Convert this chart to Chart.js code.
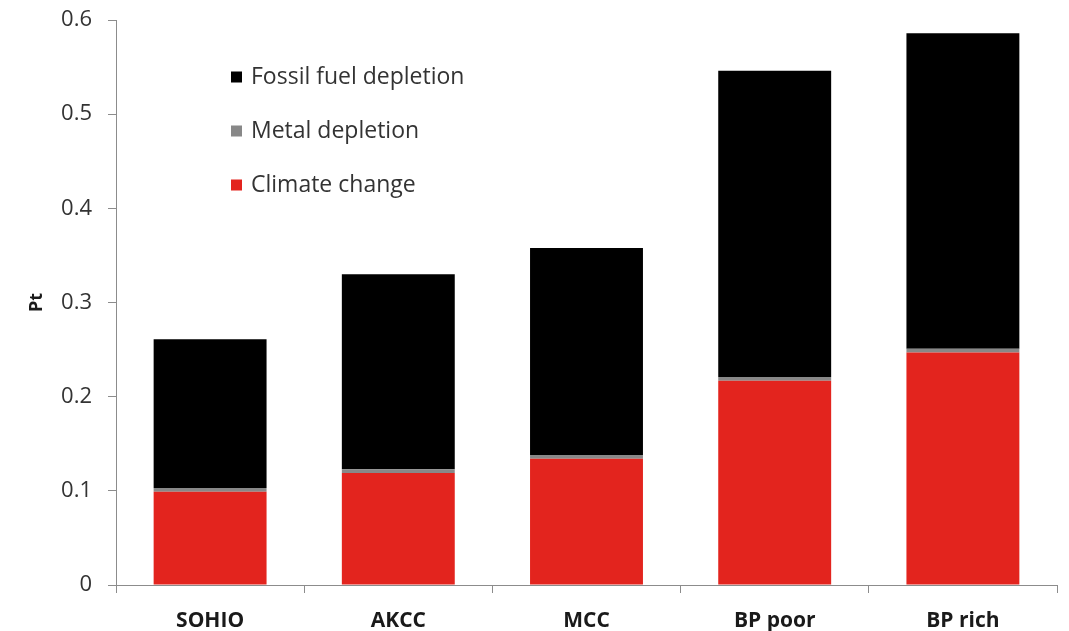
<!DOCTYPE html>
<html>
<head>
<meta charset="utf-8">
<script src="https://cdn.jsdelivr.net/npm/chart.js@4"></script>
<style>
  html, body { margin: 0; padding: 0; background: #ffffff; }
  #wrap { width: 1069px; height: 631px; position: relative; }
</style>
</head>
<body>
<div id="wrap"><canvas id="chart" width="1069" height="631"></canvas></div>
<script>
// Impact scores (Pt) per refinery configuration
const categories = ['SOHIO', 'AKCC', 'MCC', 'BP poor', 'BP rich'];
const climateChange = [0.099, 0.119, 0.134, 0.217, 0.247];
const metalDepletion = [0.004, 0.004, 0.004, 0.004, 0.004];
const fossilFuelDepletion = [0.158, 0.207, 0.220, 0.325, 0.335];
const yTicks = [0, 0.1, 0.2, 0.3, 0.4, 0.5, 0.6];

const FONT = '"Open Sans", "Liberation Sans", sans-serif';
const AXIS_GREY = '#8c8c8c';
const TEXT = '#333333';

// Legend drawn inside the plot area, top entry first
const insideLegend = {
  id: 'insideLegend',
  afterDraw(chart) {
    const ctx = chart.ctx;
    const sets = chart.data.datasets.slice().reverse();
    const x0 = 231, y0 = 77, step = 54, box = 11;
    ctx.save();
    ctx.font = '23px ' + FONT;
    ctx.textBaseline = 'middle';
    sets.forEach((ds, i) => {
      const y = y0 + i * step;
      ctx.fillStyle = ds.backgroundColor;
      ctx.fillRect(x0, y - box / 2, box, box);
      ctx.fillStyle = TEXT;
      ctx.fillText(ds.label, x0 + 20, y);
    });
    ctx.restore();
  }
};

new Chart(document.getElementById('chart'), {
  type: 'bar',
  data: {
    labels: categories,
    datasets: [
      { label: 'Climate change', data: climateChange, backgroundColor: '#e3241e' },
      { label: 'Metal depletion', data: metalDepletion, backgroundColor: '#888888' },
      { label: 'Fossil fuel depletion', data: fossilFuelDepletion, backgroundColor: '#000000' }
    ]
  },
  options: {
    responsive: false,
    animation: false,
    devicePixelRatio: 1,
    layout: { padding: { top: 20, right: 12, left: 0, bottom: 0 } },
    datasets: { bar: { categoryPercentage: 0.6, barPercentage: 1.0 } },
    plugins: { legend: { display: false }, tooltip: { enabled: false } },
    scales: {
      x: {
        stacked: true,
        border: { display: true, color: AXIS_GREY, width: 1 },
        grid: { display: true, offset: true, drawOnChartArea: false, drawTicks: true, tickLength: 8, color: AXIS_GREY },
        ticks: { color: '#1a1a1a', font: { family: FONT, size: 21, weight: 'bold' }, padding: 15 },
        afterFit(scale) { scale.height = 46; }
      },
      y: {
        stacked: true,
        min: 0,
        max: 0.6,
        afterBuildTicks(scale) { scale.ticks = yTicks.map(v => ({ value: v })); },
        border: { display: true, color: AXIS_GREY, width: 1 },
        grid: { display: true, drawOnChartArea: false, drawTicks: true, tickLength: 8, color: AXIS_GREY },
        ticks: {
          color: TEXT,
          font: { family: FONT, size: 22 },
          padding: 16,
          callback: v => (v === 0 ? '0' : v.toFixed(1))
        },
        title: { display: true, text: 'Pt', color: '#1a1a1a', font: { family: FONT, size: 18, weight: 'bold' }, padding: { top: 26, bottom: 0 } },
        afterFit(scale) {
          scale.width = 116;
          scale.paddingTop = 0;
          scale.paddingBottom = 0;
        }
      }
    }
  },
  plugins: [insideLegend]
});
</script>
</body>
</html>
